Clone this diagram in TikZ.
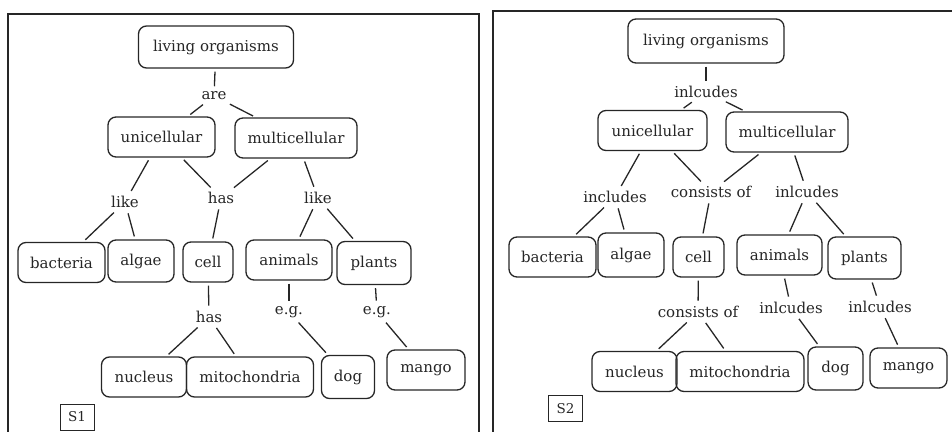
\documentclass[tikz,border=0pt]{standalone}
\usepackage{fontspec}
\setmainfont{DejaVu Serif}
\definecolor{ink}{HTML}{262626}
\begin{document}
\begin{tikzpicture}[x=1pt,y=-1pt,line width=1.3pt,draw=ink,text=ink,
    box/.style={draw,rounded corners=8pt,minimum height=40pt,inner sep=2pt,font=\fontsize{15}{17}\selectfont},
    lbl/.style={inner sep=2pt,font=\fontsize{15}{17}\selectfont},
    link/.style={shorten <=3pt,shorten >=3pt},
    tag/.style={draw,line width=0.9pt,minimum width=34pt,minimum height=26pt,inner sep=1pt,font=\fontsize{13.5}{15}\selectfont}]
    \useasboundingbox (0,0) rectangle (952,431);
    \clip (0,0) rectangle (952,431);
    % frames
    \draw (8,440)--(8,14)--(479,14)--(479,440);
    \draw (493,440)--(493,11)--(960,11);
    % S1
    \node[box,minimum width=155pt,minimum height=42pt] (lo1) at (216,47) {living organisms};
    \node[lbl] (are) at (214,96) {are};
    \node[box,minimum width=107pt] (uni1) at (161.5,137) {unicellular};
    \node[box,minimum width=122pt] (mul1) at (296,138) {multicellular};
    \node[lbl] (like1) at (125,202) {like};
    \node[lbl] (has1) at (221,198) {has};
    \node[lbl] (like2) at (318,198) {like};
    \node[box,minimum width=87pt] (bac1) at (61.5,262.5) {bacteria};
    \node[box,minimum width=66pt,minimum height=42pt] (alg1) at (141,261) {algae};
    \node[box,minimum width=50pt] (cell1) at (208,262) {cell};
    \node[box,minimum width=86pt] (ani1) at (289,260) {animals};
    \node[box,minimum width=74pt,minimum height=43pt] (pla1) at (374,263) {plants};
    \node[lbl] (has2) at (209,317) {has};
    \node[lbl] (eg1) at (289,312) {e.g.};
    \node[lbl] (eg2) at (377,312) {e.g.};
    \node[box,minimum width=85pt] (nuc1) at (144,377) {nucleus};
    \node[box,minimum width=127pt] (mit1) at (250,377) {mitochondria};
    \node[box,minimum width=53pt,minimum height=43pt] (dog1) at (348,377) {dog};
    \node[box,minimum width=78pt] (man1) at (426,370) {mango};
    \node[tag] (s1) at (77,417) {S1};
    \foreach \a/\b in {lo1/are,are/uni1,are/mul1,uni1/like1,uni1/has1,mul1/has1,mul1/like2,
        like1/bac1,like1/alg1,has1/cell1,like2/ani1,like2/pla1,cell1/has2,has2/nuc1,has2/mit1,
        ani1/eg1,eg1/dog1,pla1/eg2,eg2/man1}
      \draw[link] (\a)--(\b);
    % S2
    \node[box,minimum width=156pt,minimum height=44pt] (lo2) at (706,41) {living organisms};
    \node[lbl] (inc1) at (706,92) {inlcudes};
    \node[box,minimum width=109pt] (uni2) at (652.5,130.5) {unicellular};
    \node[box,minimum width=122pt] (mul2) at (787,132) {multicellular};
    \node[lbl] (inc2) at (615,197) {includes};
    \node[lbl] (con1) at (711,192) {consists of};
    \node[lbl] (inc3) at (807,192) {inlcudes};
    \node[box,minimum width=87pt] (bac2) at (552.5,257) {bacteria};
    \node[box,minimum width=66pt,minimum height=44pt] (alg2) at (631,255) {algae};
    \node[box,minimum width=51pt] (cell2) at (698.5,257) {cell};
    \node[box,minimum width=85pt] (ani2) at (779.5,255) {animals};
    \node[box,minimum width=73pt,minimum height=42pt] (pla2) at (864.5,258) {plants};
    \node[lbl] (con2) at (698,312) {consists of};
    \node[lbl] (inc4) at (791,308) {inlcudes};
    \node[lbl] (inc5) at (880,307) {inlcudes};
    \node[box,minimum width=85pt] (nuc2) at (634.5,371.5) {nucleus};
    \node[box,minimum width=128pt] (mit2) at (740,371.5) {mitochondria};
    \node[box,minimum width=55pt,minimum height=43pt] (dog2) at (835.5,368.5) {dog};
    \node[box,minimum width=77pt] (man2) at (908.5,368) {mango};
    \node[tag] (s2) at (565.5,408.5) {S2};
    \foreach \a/\b in {lo2/inc1,inc1/uni2,inc1/mul2,uni2/inc2,uni2/con1,mul2/con1,mul2/inc3,
        inc2/bac2,inc2/alg2,con1/cell2,inc3/ani2,inc3/pla2,cell2/con2,con2/nuc2,con2/mit2,
        ani2/inc4,inc4/dog2,pla2/inc5,inc5/man2}
      \draw[link] (\a)--(\b);
\end{tikzpicture}
\end{document}
